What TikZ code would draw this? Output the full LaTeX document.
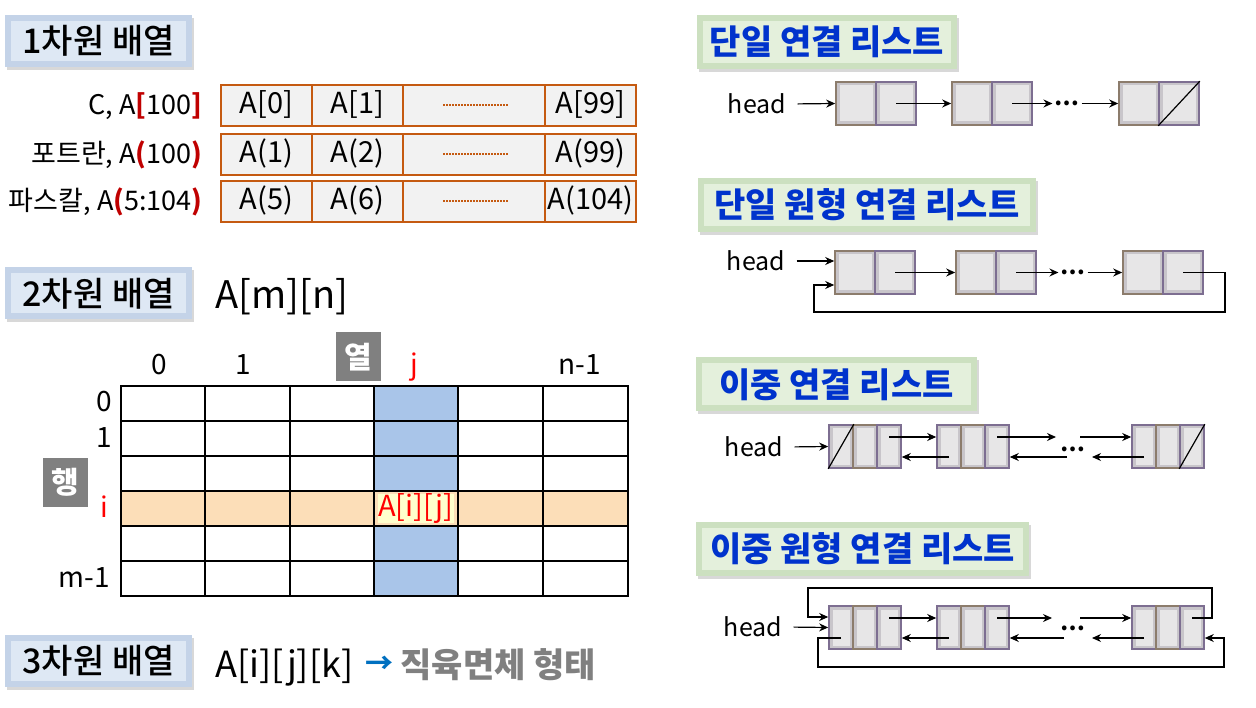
\documentclass[tikz,border=0pt]{standalone}
\usepackage{fontspec}
\setmainfont{Noto Sans CJK KR}
\newfontfamily\krmed{Noto Sans CJK KR Medium}
\usetikzlibrary{arrows.meta, calc, shadows}

\definecolor{hdblue}{RGB}{222,232,244}
\definecolor{hdblueE}{RGB}{196,211,232}
\definecolor{hdgreen}{RGB}{228,240,220}
\definecolor{hdgreenE}{RGB}{204,224,192}
\definecolor{titleblue}{RGB}{0,51,204}
\definecolor{arrline}{RGB}{197,90,17}
\definecolor{arrfill}{RGB}{242,242,242}
\definecolor{colj}{RGB}{169,197,233}
\definecolor{rowi}{RGB}{252,222,184}
\definecolor{cellij}{RGB}{255,255,204}
\definecolor{darkred}{RGB}{192,0,0}
\definecolor{tagray}{RGB}{128,128,128}
\definecolor{arrowblue}{RGB}{0,112,192}
\definecolor{datab}{RGB}{140,124,108}
\definecolor{linkb}{RGB}{125,110,145}
\definecolor{nodeedge}{RGB}{200,197,202}
\definecolor{nodein}{RGB}{231,230,231}

\begin{document}
\begin{tikzpicture}[x=1pt, y=-1pt, >={Stealth[length=9pt, width=8pt]},
    bevel/.style 2 args={fill=#1, inner sep=0pt,
      drop shadow={shadow xshift=1.5pt, shadow yshift=-3pt, opacity=.3},
      path picture={\fill[#2] ([shift={(6pt,-6pt)}]path picture bounding box.north west)
        rectangle ([shift={(-6pt,6pt)}]path picture bounding box.south east);}},
    headL/.style={bevel={hdblueE}{hdblue}, minimum height=52pt, font=\fontsize{34}{38}\krmed},
    headR/.style={bevel={hdgreenE}{hdgreen}, minimum height=54pt, text=titleblue, font=\fontsize{34}{38}\selectfont\bfseries},
    acell/.style={draw=arrline, line width=2pt, fill=arrfill, minimum height=41pt, inner sep=0pt,
      text height=21pt, text depth=4pt, font=\fontsize{29}{32}\selectfont},
    lbl/.style={anchor=base east, font=\fontsize{27}{32}\selectfont},
    glbl/.style={anchor=base, font=\fontsize{28}{32}\selectfont},
    dotline/.style={arrline, line width=2pt, dash pattern=on 1.5pt off 1.5pt},
    gridline/.style={line width=2pt},
    tag/.style={fill=tagray, text=white, minimum width=45pt, minimum height=49pt, inner sep=0pt,
      font=\fontsize{30}{34}\selectfont\bfseries},
    hd/.style={font=\fontsize{25}{28}\selectfont},
    dots/.style={font=\fontsize{22}{24}\selectfont\bfseries, inner sep=2pt},
    lcell/.style={minimum height=43pt, inner sep=0pt, line width=1.6pt, fill=nodeedge,
      path picture={\fill[nodein] ([shift={(3.5pt,-3.5pt)}]path picture bounding box.north west)
        rectangle ([shift={(-3.5pt,3.5pt)}]path picture bounding box.south east);}},
    dcell/.style={lcell, draw=datab},
    pcell/.style={lcell, draw=linkb},
    link/.style={->, line width=1.2pt},
    slash/.style={line width=1.2pt}]

    \fill[white] (0,0) rectangle (1256,708);
    \useasboundingbox (0,0) rectangle (1256,708);

    % 1차원 배열
    \node[headL, minimum width=187pt] (t1) at (98.5,41) {1차원 배열};

    \node[lbl] (l1) at (206,115) {C, A\textcolor{darkred}{\bfseries[}100\textcolor{darkred}{\bfseries]}};
    \node[lbl] (l2) at (206,164) {포트란, A\textcolor{darkred}{\bfseries(}100\textcolor{darkred}{\bfseries)}};
    \node[lbl] (l3) at (206,211) {파스칼, A\textcolor{darkred}{\bfseries(}5:104\textcolor{darkred}{\bfseries)}};

    \node[acell, minimum width=91pt] (a11) at (266.5,105.5) {A[0]};
    \node[acell, minimum width=91pt] (a12) at (357.5,105.5) {A[1]};
    \node[acell, minimum width=142pt] (a13) at (474,105.5) {};
    \node[acell, minimum width=91pt] (a14) at (590.5,105.5) {A[99]};

    \node[acell, minimum width=91pt] (a21) at (266.5,154.5) {A(1)};
    \node[acell, minimum width=91pt] (a22) at (357.5,154.5) {A(2)};
    \node[acell, minimum width=142pt] (a23) at (474,154.5) {};
    \node[acell, minimum width=91pt] (a24) at (590.5,154.5) {A(99)};

    \node[acell, minimum width=91pt] (a31) at (266.5,201.5) {A(5)};
    \node[acell, minimum width=91pt] (a32) at (357.5,201.5) {A(6)};
    \node[acell, minimum width=142pt] (a33) at (474,201.5) {};
    \node[acell, minimum width=91pt] (a34) at (590.5,201.5) {A(104)};

    \draw[dotline] ([xshift=-31pt]a13.center) -- ([xshift=34pt]a13.center);
    \draw[dotline] ([xshift=-31pt]a23.center) -- ([xshift=34pt]a23.center);
    \draw[dotline] ([xshift=-31pt]a33.center) -- ([xshift=34pt]a33.center);

    % 2차원 배열
    \node[headL, minimum width=187pt] (t2) at (98.5,293.5) {2차원 배열};
    \node[anchor=base west, font=\fontsize{38}{44}\selectfont] (amn) at (212,309) {A[m][n]};

    \fill[colj] (374,386) rectangle (458,596);
    \fill[rowi] (121,491) rectangle (628,526);
    \foreach \x in {121,205,290,374,458,543,628}
        \draw[gridline] (\x,386) -- (\x,596);
    \foreach \y in {386,421,456,491,526,561,596}
        \draw[gridline] (120,\y) -- (629,\y);
    \node[fill=cellij, text=red, minimum width=76pt, minimum height=28pt, inner sep=0pt,
        font=\fontsize{29}{32}\selectfont] (aij) at (416,508.5) {A[i][j]};

    \node[tag] (colh) at (358.5,357) {열};
    \node[tag] (rowh) at (65.5,482.5) {행};

    \node[glbl] (c0) at (159,375) {0};
    \node[glbl] (c1) at (243,375) {1};
    \node[glbl, text=red] (cj) at (414,375) {j};
    \node[glbl] (cn) at (580,375) {n-1};

    \node[glbl] (r0) at (104,412) {0};
    \node[glbl] (r1) at (104,447) {1};
    \node[glbl, text=red] (ri) at (104,517) {i};
    \node[glbl] (rm) at (84,587) {m-1};

    % 3차원 배열
    \node[headL, minimum width=187pt] (t3) at (98.5,661) {3차원 배열};
    \node[anchor=base west, font=\fontsize{36}{42}\selectfont] (ak) at (212,677) {A[i][j][k]};
    \node[anchor=base west, inner sep=0pt, text=arrowblue, font=\fontsize{28}{34}\selectfont\bfseries] (ar3) at (365,673) {→};
    \node[anchor=base west, text=tagray, font=\fontsize{34}{38}\selectfont\bfseries] (box3) at (397,677) {직육면체 형태};

    % 단일 연결 리스트
    \node[headR, minimum width=260pt] (t4) at (827,42) {단일 연결 리스트};
    \node[hd] (h1) at (757,104) {head};
    \node[dcell, minimum width=40pt] (s1a) at (856,103.5) {};
    \node[pcell, minimum width=40pt] (s1b) at (896,103.5) {};
    \node[dcell, minimum width=40pt] (s2a) at (972,103.5) {};
    \node[pcell, minimum width=40pt] (s2b) at (1012,103.5) {};
    \node[dcell, minimum width=40pt] (s3a) at (1139,103.5) {};
    \node[pcell, minimum width=40pt] (s3b) at (1179,103.5) {};
    \node[dots] (dt1) at (1067,103.5) {⋯};
    \draw[slash] (s3b.south west) -- (s3b.north east);
    \draw[link, shorten <=8pt] (h1.east) -- (s1a.west);
    \draw[link] (s1b.center) -- (s2a.west);
    \draw[link] (s2b.center) -- (dt1.west);
    \draw[link] (dt1.east) -- (s3a.west);

    % 단일 원형 연결 리스트
    \node[headR, minimum width=338pt] (t5) at (867,205) {단일 원형 연결 리스트};
    \node[hd] (h2) at (756,261) {head};
    \node[dcell, minimum width=40pt] (c1a) at (855,272.5) {};
    \node[pcell, minimum width=40pt] (c1b) at (895,272.5) {};
    \node[dcell, minimum width=40pt] (c2a) at (976,272.5) {};
    \node[pcell, minimum width=40pt] (c2b) at (1016,272.5) {};
    \node[dcell, minimum width=40pt] (c3a) at (1143,272.5) {};
    \node[pcell, minimum width=40pt] (c3b) at (1183,272.5) {};
    \node[dots] (dt2) at (1073,272.5) {⋯};
    \draw[link, shorten <=8pt] (h2.east) -- ([yshift=11.5pt]c1a.west);
    \draw[link] (c1b.center) -- (c2a.west);
    \draw[link] (c2b.center) -- (dt2.west);
    \draw[link] (dt2.east) -- (c3a.west);
    \draw[link] (c3b.center) -| (1225,312) -| (814,285) -- ([yshift=-12.5pt]c1a.west);

    % 이중 연결 리스트
    \node[headR, minimum width=281pt] (t6) at (836.5,384.5) {이중 연결 리스트};
    \node[hd] (h3) at (754,447) {head};
    \node[pcell, minimum width=24pt] (d1a) at (841,446.5) {};
    \node[dcell, minimum width=24pt] (d1b) at (865,446.5) {};
    \node[pcell, minimum width=24pt] (d1c) at (889,446.5) {};
    \node[pcell, minimum width=24pt] (d2a) at (949,446.5) {};
    \node[dcell, minimum width=24pt] (d2b) at (973,446.5) {};
    \node[pcell, minimum width=24pt] (d2c) at (997,446.5) {};
    \node[pcell, minimum width=24pt] (d3a) at (1144,446.5) {};
    \node[dcell, minimum width=24pt] (d3b) at (1168,446.5) {};
    \node[pcell, minimum width=24pt] (d3c) at (1192,446.5) {};
    \node[dots] (dt3) at (1073,449) {⋯};
    \coordinate (f3a) at (1056,437);
    \coordinate (f3b) at (1080,437);
    \coordinate (b3a) at (1067,457);
    \coordinate (b3b) at (1092,457);
    \draw[slash] (d1a.south west) -- (d1a.north east);
    \draw[slash] (d3c.south west) -- (d3c.north east);
    \draw[link, shorten <=8pt] (h3.east) -- (d1a.west);
    \draw[link] ([yshift=9.5pt]d1c.center) -- ([yshift=9.5pt]d2a.west);
    \draw[link] ([yshift=9.5pt]d2c.center) -- (f3a);
    \draw[link] (f3b) -- ([yshift=9.5pt]d3a.west);
    \draw[link] ([yshift=-10.5pt]d2a.center) -- ([yshift=-10.5pt]d1c.east);
    \draw[link] (b3a) -- ([yshift=-10.5pt]d2c.east);
    \draw[link] ([yshift=-10.5pt]d3a.center) -- (b3b);

    % 이중 원형 연결 리스트
    \node[headR, minimum width=333pt] (t7) at (862.5,548.5) {이중 원형 연결 리스트};
    \node[hd] (h4) at (753,627) {head};
    \node[pcell, minimum width=24pt] (e1a) at (841,627.5) {};
    \node[dcell, minimum width=24pt] (e1b) at (865,627.5) {};
    \node[pcell, minimum width=24pt] (e1c) at (889,627.5) {};
    \node[pcell, minimum width=24pt] (e2a) at (949,627.5) {};
    \node[dcell, minimum width=24pt] (e2b) at (973,627.5) {};
    \node[pcell, minimum width=24pt] (e2c) at (997,627.5) {};
    \node[pcell, minimum width=24pt] (e3a) at (1144,627.5) {};
    \node[dcell, minimum width=24pt] (e3b) at (1168,627.5) {};
    \node[pcell, minimum width=24pt] (e3c) at (1192,627.5) {};
    \node[dots] (dt4) at (1073,628) {⋯};
    \coordinate (f4a) at (1052,618);
    \coordinate (f4b) at (1080,618);
    \coordinate (b4a) at (1064,638);
    \coordinate (b4b) at (1092,638);
    \draw[link, shorten <=8pt] (h4.east) -- (e1a.west);
    \draw[link] ([yshift=9.5pt]e1c.center) -- ([yshift=9.5pt]e2a.west);
    \draw[link] ([yshift=9.5pt]e2c.center) -- (f4a);
    \draw[link] (f4b) -- ([yshift=9.5pt]e3a.west);
    \draw[link] ([yshift=-10.5pt]e2a.center) -- ([yshift=-10.5pt]e1c.east);
    \draw[link] (b4a) -- ([yshift=-10.5pt]e2c.east);
    \draw[link] ([yshift=-10.5pt]e3a.center) -- (b4b);
    \draw[link] ([yshift=9.5pt]e3c.center) -| (1212,588) -| (808,617) -- ([yshift=10.5pt]e1a.west);
    \draw[link] ([yshift=-10.5pt]e1a.center) -| (818,667) -| (1224,638) -- ([yshift=-10.5pt]e3c.east);
\end{tikzpicture}
\end{document}
